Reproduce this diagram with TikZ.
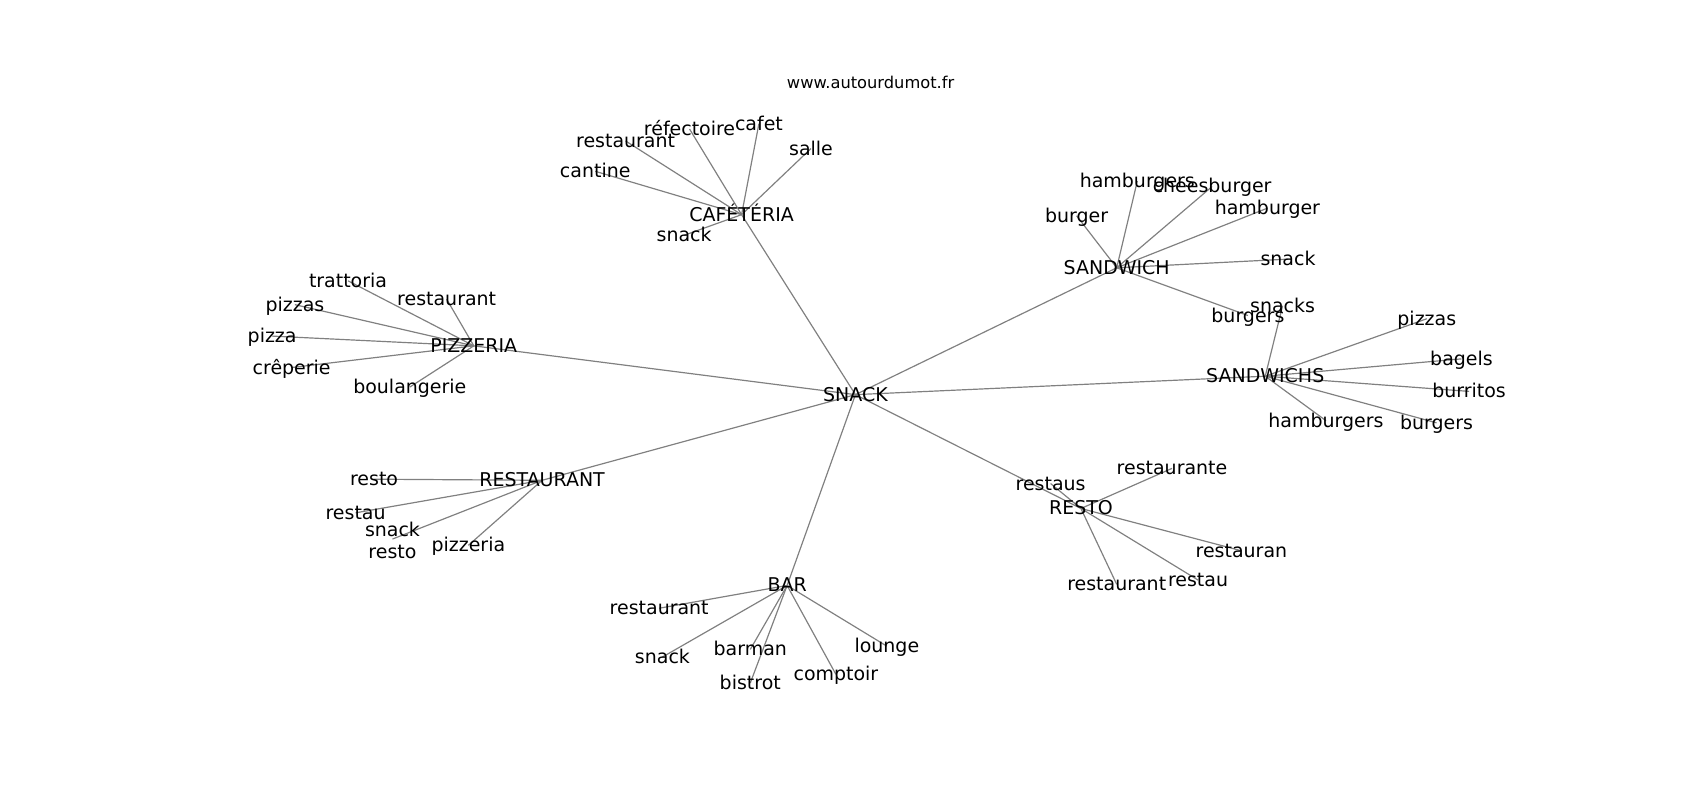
\documentclass[tikz,border=0pt]{standalone}
\usepackage{fontspec}
\setmainfont{DejaVu Sans}
\usepackage{tikz}
\pgfdeclarelayer{background}
\pgfsetlayers{background,main}
\tikzset{word/.style={font=\fontsize{17.5}{21}\selectfont, inner sep=0pt, text height=1.2em, text depth=0pt},
  link/.style={draw=black!50, line width=1.1pt}}

\begin{document}
\begin{tikzpicture}[x=1pt,y=-1pt]
\useasboundingbox (0,0) rectangle (1568,738);
\node[font=\fontsize{15}{18}\selectfont] (title) at (803,76) {www.autourdumot.fr};

\node[word] (SNACK) at (789,364) {SNACK};
\node[word] (CAF) at (684,198) {CAFÉTÉRIA};
\node[word] (SW) at (1030,247) {SANDWICH};
\node[word] (SWS) at (1167,347) {SANDWICHS};
\node[word] (PIZ) at (437,319) {PIZZERIA};
\node[word] (REST) at (500,443) {RESTAURANT};
\node[word] (BAR) at (726,540) {BAR};
\node[word] (RESTO) at (997,469) {RESTO};

% cafeteria
\node[word] (CAF-1) at (549,158) {cantine};
\node[word] (CAF-2) at (577,130) {restaurant};
\node[word] (CAF-3) at (636,119) {réfectoire};
\node[word] (CAF-4) at (700,114) {cafet};
\node[word] (CAF-5) at (748,137) {salle};
\node[word] (CAF-6) at (631,217) {snack};

% sandwich
\node[word] (SW-1) at (993,199) {burger};
\node[word] (SW-3) at (1118,172) {cheesburger};
\node[word] (SW-2) at (1049,167) {hamburgers};
\node[word] (SW-4) at (1169,192) {hamburger};
\node[word] (SW-5) at (1188,239) {snack};
\node[word] (SW-6) at (1151,291) {burgers};

% sandwichs
\node[word] (SWS-1) at (1183,282) {snacks};
\node[word] (SWS-2) at (1316,294) {pizzas};
\node[word] (SWS-3) at (1348,331) {bagels};
\node[word] (SWS-4) at (1355,361) {burritos};
\node[word] (SWS-5) at (1325,390) {burgers};
\node[word] (SWS-6) at (1223,388) {hamburgers};

% pizzeria
\node[word] (PIZ-1) at (321,259) {trattoria};
\node[word] (PIZ-2) at (412,276) {restaurant};
\node[word] (PIZ-3) at (272,281) {pizzas};
\node[word] (PIZ-4) at (251,310) {pizza};
\node[word] (PIZ-5) at (269,339) {crêperie};
\node[word] (PIZ-6) at (378,357) {boulangerie};

% restaurant
\node[word] (REST-1) at (345,442) {resto};
\node[word] (REST-2) at (328,473) {restau};
\node[word] (REST-3) at (362,489) {snack};
\node[word] (REST-4) at (362,509) {resto};
\node[word] (REST-5) at (432,503) {pizzeria};

% bar
\node[word] (BAR-1) at (608,561) {restaurant};
\node[word] (BAR-2) at (611,606) {snack};
\node[word] (BAR-3) at (692,599) {barman};
\node[word] (BAR-4) at (692,630) {bistrot};
\node[word] (BAR-5) at (771,622) {comptoir};
\node[word] (BAR-6) at (818,596) {lounge};

% resto
\node[word] (RESTO-1) at (969,446) {restaus};
\node[word] (RESTO-2) at (1081,432) {restaurante};
\node[word] (RESTO-3) at (1145,508) {restauran};
\node[word] (RESTO-4) at (1030,539) {restaurant};
\node[word] (RESTO-5) at (1105,535) {restau};

\begin{pgfonlayer}{background}
\foreach \hub in {CAF,SW,SWS,PIZ,REST,BAR,RESTO}
  \draw[link] (SNACK.center) -- (\hub.center);
\foreach \i in {1,...,6} {
  \draw[link] (CAF.center) -- (CAF-\i.center);
  \draw[link] (SW.center) -- (SW-\i.center);
  \draw[link] (SWS.center) -- (SWS-\i.center);
  \draw[link] (PIZ.center) -- (PIZ-\i.center);
  \draw[link] (BAR.center) -- (BAR-\i.center);
}
\foreach \i in {1,2,5} \draw[link] (REST.center) -- (REST-\i.center);
\draw[link] (REST.center) -- ([yshift=-2pt]REST-3.south);
\foreach \i in {1,...,5} \draw[link] (RESTO.center) -- (RESTO-\i.center);
\end{pgfonlayer}
\end{tikzpicture}
\end{document}
